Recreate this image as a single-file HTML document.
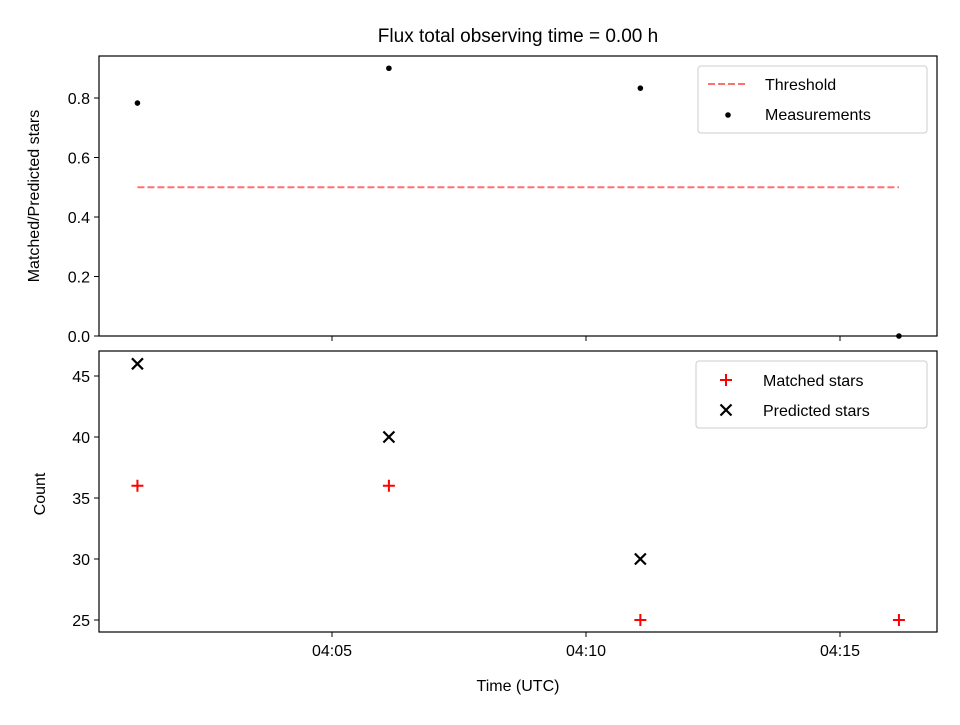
<!DOCTYPE html>
<html><head><meta charset="utf-8"><style>
body{margin:0;background:#fff}
svg{font-family:"Liberation Sans","DejaVu Sans",sans-serif}
</style></head><body>
<svg id="c" width="960" height="720" viewBox="0 0 960 720">
<rect width="960" height="720" fill="#fff"/>
<text x="518" y="42" font-size="19" text-anchor="middle">Flux total observing time = 0.00 h</text>
<g id="topPanel"></g>
<g id="botPanel"></g>
<text x="518" y="691" font-size="16" text-anchor="middle">Time (UTC)</text>
<text transform="translate(39,196) rotate(-90)" font-size="16" text-anchor="middle">Matched/Predicted stars</text>
<text transform="translate(45,494) rotate(-90)" font-size="16" text-anchor="middle">Count</text>
</svg>
<script>
// minutes after 04:00
const times=[1.17,6.12,11.07,16.16];
const ratios=[0.783,0.9,0.833,0.0];
const matched=[36,36,25,25];
const predicted=[46,40,30,null];
const threshold=0.5;
const xTicks=[5,10,15];
const xTickLabels=["04:05","04:10","04:15"];
const topTicks=[0,0.2,0.4,0.6,0.8];
const botTicks=[25,30,35,40,45];

const NS="http://www.w3.org/2000/svg";
const L=99,R=937;
const x=m=>332+(m-5)*(586-332)/5;
const yT=v=>336-v*(336-98)/0.8;
const yB=v=>620-(v-25)*(620-376)/20;
function mk(p,tag,a,txt){const e=document.createElementNS(NS,tag);for(const k in a)e.setAttribute(k,a[k]);if(txt!=null)e.textContent=txt;p.appendChild(e);return e;}
const topG=document.getElementById('topPanel'),botG=document.getElementById('botPanel');

let th=mk(topG,'line',{x1:x(times[0]),x2:x(times[times.length-1]),y1:yT(threshold),y2:yT(threshold),stroke:'#ff7070','stroke-width':2,'stroke-dasharray':'7,3'});


times.forEach((t,i)=>{
 const c=mk(topG,'circle',{cx:x(t),cy:yT(ratios[i]),r:2.8,fill:'#000'});
 
 
});
[[topG,56,336],[botG,351,632]].forEach(([g,a,b])=>{
 const r=mk(g,'rect',{x:L,y:a,width:R-L,height:b-a,fill:'none',stroke:'#000','stroke-width':1.2});
 
 
 xTicks.forEach(t=>{const tk=mk(g,'line',{x1:x(t),x2:x(t),y1:b,y2:b+5,stroke:'#000'});
 
 });
});
xTicks.forEach((t,i)=>{const tx=mk(botG,'text',{x:x(t),y:656,'font-size':16,'text-anchor':'middle'},xTickLabels[i]);
 
 });
topTicks.forEach(v=>{mk(topG,'line',{x1:L-5,x2:L,y1:yT(v),y2:yT(v),stroke:'#000'});
 const tx=mk(topG,'text',{x:L-9,y:yT(v)+6,'font-size':16,'text-anchor':'end'},v.toFixed(1));
 
 });
botTicks.forEach(v=>{mk(botG,'line',{x1:L-5,x2:L,y1:yB(v),y2:yB(v),stroke:'#000'});
 const tx=mk(botG,'text',{x:L-9,y:yB(v)+6,'font-size':16,'text-anchor':'end'},String(v));
 
 });
function plus(g,cx,cy){return mk(g,'path',{d:`M${cx-6},${cy}H${cx+6}M${cx},${cy-6}V${cy+6}`,stroke:'red','stroke-width':2});}
function cross(g,cx,cy){return mk(g,'path',{d:`M${cx-5.5},${cy-5.5}L${cx+5.5},${cy+5.5}M${cx-5.5},${cy+5.5}L${cx+5.5},${cy-5.5}`,stroke:'#000','stroke-width':2.2});}
times.forEach((t,i)=>{
 const p=plus(botG,x(t),yB(matched[i]));
 
 
 if(predicted[i]!=null){const c=cross(botG,x(t),yB(predicted[i]));
 
 }
});
const lg1=mk(topG,'g',{});


mk(lg1,'rect',{x:698,y:66,width:229,height:67,rx:3,fill:'#fff',stroke:'#ccc'});
mk(lg1,'line',{x1:708,x2:748,y1:84,y2:84,stroke:'#ff7070','stroke-width':2,'stroke-dasharray':'7,3'});
mk(lg1,'text',{x:765,y:90,'font-size':16},'Threshold');
mk(lg1,'circle',{cx:728,cy:115,r:2.8,fill:'#000'});
mk(lg1,'text',{x:765,y:120,'font-size':16},'Measurements');
const lg2=mk(botG,'g',{});


mk(lg2,'rect',{x:696,y:361,width:231,height:67,rx:3,fill:'#fff',stroke:'#ccc'});
plus(lg2,726,380);
mk(lg2,'text',{x:763,y:386,'font-size':16},'Matched stars');
cross(lg2,726,410);
mk(lg2,'text',{x:763,y:416,'font-size':16},'Predicted stars');
</script>
</body></html>
